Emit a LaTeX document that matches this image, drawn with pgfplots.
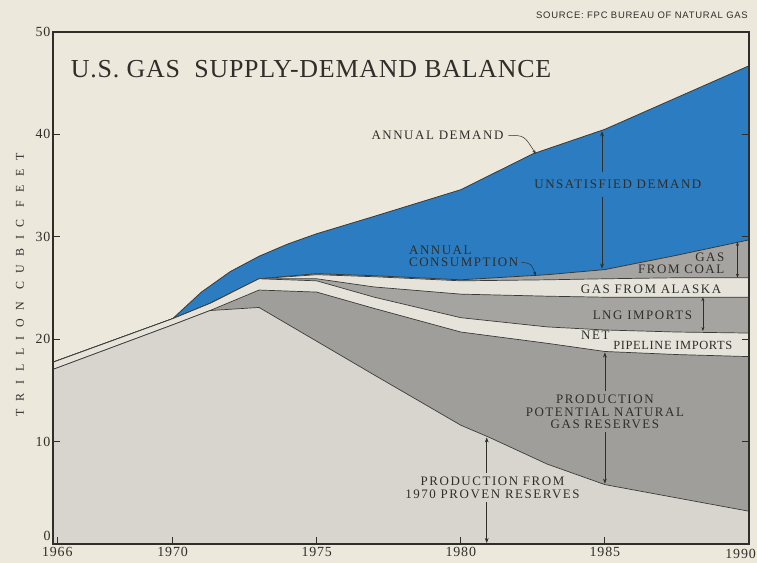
\documentclass[border=0pt]{standalone}
\usepackage{fontspec}
\setmainfont{Liberation Serif}
\setsansfont{Liberation Sans}
\usepackage{pgfplots}
\pgfplotsset{compat=1.18}
\usetikzlibrary{arrows.meta}
\definecolor{paper}{HTML}{ECE8DC}
\definecolor{lgray}{HTML}{D7D5CE}
\definecolor{dgray}{HTML}{9F9E9B}
\definecolor{band}{HTML}{E6E3DA}
\definecolor{mgray}{HTML}{A6A4A0}
\definecolor{blu}{HTML}{2B7CC0}
\definecolor{linec}{HTML}{3A3A38}
\definecolor{ink}{HTML}{2F2E2A}
\newcommand{\lab}{\fontsize{13}{12.5}\selectfont\addfontfeature{LetterSpace=12}}
\begin{document}
\begin{tikzpicture}
\fill[paper] (-53bp,-19bp) rectangle (704bp,544bp);
\begin{axis}[
  width=696bp, height=512bp, scale only axis,
  xmin=1965.85, xmax=1990, ymin=0, ymax=50,
  xtick={1966,1970,1975,1980,1985,1990},
  xticklabels={1966,1970,1975,1980,1985,},
  ytick={10,20,30,40,50},
  extra y ticks={0},
  extra y tick style={yticklabel style={yshift=8bp}},
  xtick pos=lower, ytick pos=both,
  tick align=inside, major tick length=7bp,
  tick style={line width=0.9pt, color=ink},
  axis line style={line width=1.3pt, color=ink},
  /pgf/number format/1000 sep={},
  /pgf/number format/assume math mode=true,
  ticklabel style={font=\fontsize{14}{14}\selectfont\addfontfeature{LetterSpace=6}, text=ink},
  xticklabel style={yshift=0bp},
  yticklabel style={xshift=1bp},
  axis on top,
  clip=true,
]
% annual demand (top of blue)
\addplot[fill=blu, draw=linec, line width=0.8pt] coordinates {
 (1965.85,17.75) (1970,22.0) (1971,24.6) (1972,26.6) (1973,28.1) (1974,29.3)
 (1975,30.3) (1977,32.0) (1980,34.6) (1982.5,38.1) (1985,40.5) (1987.5,43.6) (1990,46.7)} \closedcycle;
% annual consumption = top of gas from coal
\addplot[fill=mgray, draw=linec, line width=0.8pt] coordinates {
 (1965.85,17.75) (1970,22.0) (1971.3,23.5) (1973,25.9) (1975,26.4) (1977,26.2)
 (1980,25.8) (1983,26.3) (1985,26.8) (1987.5,28.2) (1990,29.7)} \closedcycle;
% top of gas from Alaska
\addplot[fill=band, draw=linec, line width=0.7pt] coordinates {
 (1965.85,17.75) (1970,22.0) (1971.3,23.5) (1973,25.9) (1975,26.3) (1977,26.1)
 (1980,25.7) (1983,25.8) (1985,25.9) (1987.5,26.0) (1990,26.0)} \closedcycle;
% top of LNG imports
\addplot[fill=mgray, draw=linec, line width=0.7pt] coordinates {
 (1965.85,17.75) (1970,22.0) (1971.3,23.5) (1973,25.9) (1975,25.9) (1977,25.1)
 (1980,24.4) (1983,24.2) (1985,24.1) (1987.5,24.1) (1990,24.1)} \closedcycle;
% top of net pipeline imports
\addplot[fill=band, draw=linec, line width=0.7pt] coordinates {
 (1965.85,17.75) (1970,22.0) (1971.3,23.5) (1973,25.9) (1975,25.7) (1977,24.1)
 (1980,22.1) (1983,21.2) (1985,20.9) (1987.5,20.7) (1990,20.6)} \closedcycle;
% top of production potential, natural gas reserves
\addplot[fill=dgray, draw=linec, line width=0.7pt] coordinates {
 (1965.85,17.05) (1970,21.4) (1971.3,22.8) (1973,24.8) (1975,24.6) (1977,23.0)
 (1980,20.7) (1983,19.6) (1985,18.8) (1987.5,18.5) (1990,18.3)} \closedcycle;
% production from 1970 proven reserves
\addplot[fill=lgray, draw=linec, line width=0.7pt] coordinates {
 (1965.85,17.05) (1970,21.4) (1971.3,22.8) (1973,23.1) (1975,19.8) (1977,16.5)
 (1980,11.6) (1981,10.4) (1983,7.8) (1985,5.8) (1987.5,4.5) (1990,3.2)} \closedcycle;

% title
\node[anchor=west, text=ink, font=\fontsize{26}{28}\selectfont\addfontfeature{LetterSpace=3}]
  at (axis cs:1966.35,46.4) {U.S. GAS\ \ SUPPLY-DEMAND BALANCE};

% annual demand
\node[anchor=east, text=ink, font=\lab] at (axis cs:1981.6,39.9) {ANNUAL DEMAND};
\draw[-{Stealth[length=4bp]}, ink, line width=0.5pt] (axis cs:1981.65,39.9) .. controls (axis cs:1982.2,39.9) .. (axis cs:1982.6,38.1);
% unsatisfied demand
\node[text=ink, font=\lab] at (axis cs:1985.45,35.1) {UNSATISFIED DEMAND};
\draw[-{Stealth[length=5bp]}, ink, line width=0.5pt] (axis cs:1984.9,36.3) -- (axis cs:1984.9,40.3);
\draw[-{Stealth[length=5bp]}, ink, line width=0.5pt] (axis cs:1984.9,33.9) -- (axis cs:1984.9,26.9);
% annual consumption
\node[anchor=west, text=ink, font=\lab, align=left, inner sep=0pt] at (axis cs:1978.2,28.1) {ANNUAL\\CONSUMPTION};
\draw[-{Stealth[length=4bp]}, ink, line width=0.5pt] (axis cs:1982.1,27.5) .. controls (axis cs:1982.45,27.4) .. (axis cs:1982.6,26.2);
% gas from coal
\node[anchor=east, text=ink, font=\lab, align=right, inner sep=0pt] at (axis cs:1989.15,27.4) {GAS\\FROM COAL};
\draw[{Stealth[length=4bp]}-{Stealth[length=4bp]}, ink, line width=0.5pt] (axis cs:1989.6,26.0) -- (axis cs:1989.6,29.5);
% gas from alaska
\node[text=ink, font=\lab] at (axis cs:1986.6,24.85) {GAS FROM ALASKA};
% lng imports
\node[text=ink, font=\lab] at (axis cs:1986.3,22.3) {LNG IMPORTS};
\draw[{Stealth[length=4bp]}-{Stealth[length=4bp]}, ink, line width=0.5pt] (axis cs:1988.4,20.8) -- (axis cs:1988.4,24.1);
% net pipeline imports
\node[anchor=east, text=ink, font=\lab, inner sep=1pt] at (axis cs:1985.2,20.4) {NET};
\node[anchor=west, text=ink, font=\fontsize{12.5}{12.5}\selectfont\addfontfeature{LetterSpace=5}, inner sep=1pt] at (axis cs:1985.25,19.4) {PIPELINE IMPORTS};
% production potential
\node[text=ink, font=\lab, align=center, inner sep=0pt] at (axis cs:1985.0,12.9) {PRODUCTION\\POTENTIAL NATURAL\\GAS RESERVES};
\draw[-{Stealth[length=5bp]}, ink, line width=0.5pt] (axis cs:1985.0,14.9) -- (axis cs:1985.0,18.7);
\draw[-{Stealth[length=5bp]}, ink, line width=0.5pt] (axis cs:1985.0,10.9) -- (axis cs:1985.0,5.9);
% production from 1970 proven reserves
\node[text=ink, font=\lab, align=center, inner sep=0pt] at (axis cs:1981.1,5.5) {PRODUCTION FROM\\1970 PROVEN RESERVES};
\draw[-{Stealth[length=5bp]}, ink, line width=0.5pt] (axis cs:1980.9,6.9) -- (axis cs:1980.9,10.4);
\draw[-{Stealth[length=5bp]}, ink, line width=0.5pt] (axis cs:1980.9,4.1) -- (axis cs:1980.9,0.1);
\end{axis}
% source
\node[anchor=east, text=ink, font=\sffamily\fontsize{9.5}{10}\selectfont\addfontfeature{LetterSpace=8}, inner sep=0pt] at (695bp,529bp) {SOURCE: FPC BUREAU OF NATURAL GAS};
% 1990 label
\node[anchor=north east, text=ink, font=\fontsize{14}{14}\selectfont\addfontfeature{LetterSpace=6}, inner sep=1pt] at (704bp,-4bp) {1990};
% y label
\node[rotate=90, text=ink, font=\fontsize{12}{12}\selectfont\addfontfeature{LetterSpace=72}] at (-33bp,259bp) {TRILLION CUBIC FEET};
\pgfresetboundingbox
\useasboundingbox (-53bp,-19bp) rectangle (704bp,544bp);
\end{tikzpicture}
\end{document}
